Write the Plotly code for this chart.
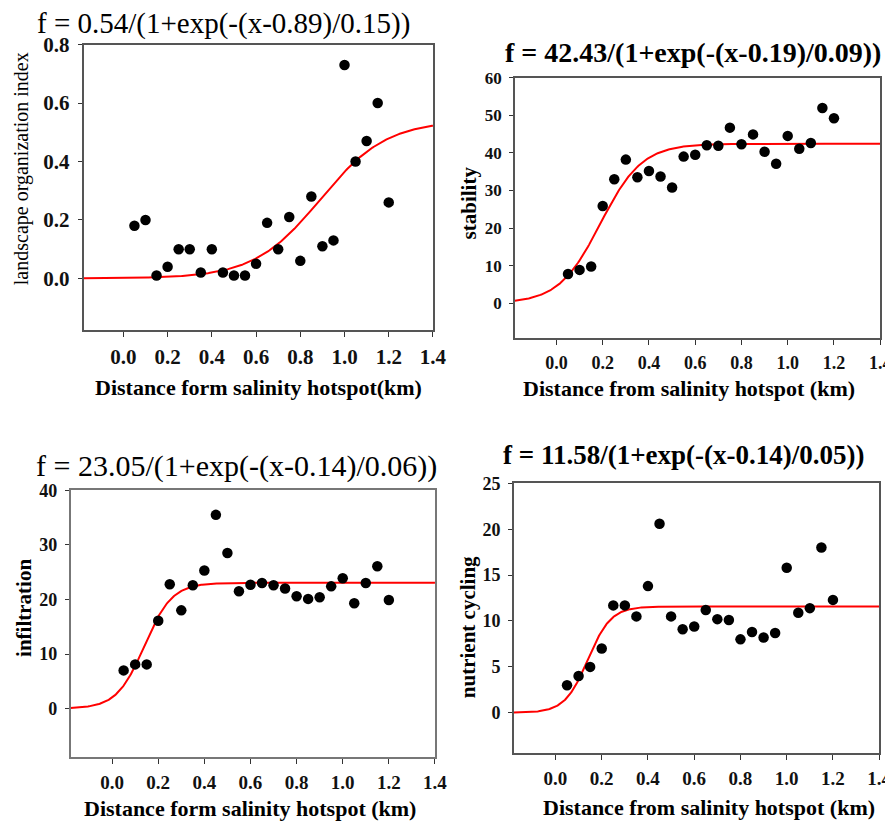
import numpy as np
import plotly.graph_objects as go

# ---------------- data ----------------
distance_km = [0.05, 0.10, 0.15, 0.20, 0.25, 0.30, 0.35, 0.40, 0.45, 0.50, 0.55, 0.60,
               0.65, 0.70, 0.75, 0.80, 0.85, 0.90, 0.95, 1.00, 1.05, 1.10, 1.15, 1.20]

landscape_org = [0.18, 0.20, 0.01, 0.04, 0.10, 0.10, 0.02, 0.10, 0.02, 0.01, 0.01, 0.05,
                 0.19, 0.10, 0.21, 0.06, 0.28, 0.11, 0.13, 0.73, 0.40, 0.47, 0.60, 0.26]
stability = [7.8, 8.9, 9.8, 25.9, 33.0, 38.2, 33.5, 35.2, 33.7, 30.8, 39.0, 39.5,
             42.0, 41.9, 46.7, 42.3, 44.9, 40.3, 37.1, 44.5, 41.1, 42.6, 51.9, 49.2]
infiltration = [7.0, 8.1, 8.1, 16.1, 22.8, 18.0, 22.6, 25.3, 35.5, 28.5, 21.5, 22.7,
                23.0, 22.6, 22.0, 20.6, 20.1, 20.4, 22.4, 23.9, 19.3, 23.0, 26.1, 19.9]
nutrient_cycling = [3.0, 4.0, 5.0, 7.0, 11.7, 11.7, 10.5, 13.8, 20.6, 10.5, 9.1, 9.4,
                    11.2, 10.2, 10.1, 8.0, 8.8, 8.2, 8.7, 15.8, 10.9, 11.4, 18.0, 12.3]

# logistic fit parameters (a, x0, b) from the panel titles
fit_landscape = [0.54, 0.89, 0.15]
fit_stability = [42.43, 0.19, 0.09]
fit_infiltration = [23.05, 0.14, 0.06]
fit_nutrient = [11.58, 0.14, 0.05]

titles = ["f = 0.54/(1+exp(-(x-0.89)/0.15))",
          "f = 42.43/(1+exp(-(x-0.19)/0.09))",
          "f = 23.05/(1+exp(-(x-0.14)/0.06))",
          "f = 11.58/(1+exp(-(x-0.14)/0.05))"]
y_titles = ["landscape organization index", "stability", "infiltration", "nutrient cycling"]
x_titles = ["Distance form salinity hotspot(km)",
            "Distance from salinity hotspot (km)",
            "Distance form salinity hotspot (km)",
            "Distance from salinity hotspot (km)"]
x_ticks = [0.0, 0.2, 0.4, 0.6, 0.8, 1.0, 1.2, 1.4]
y_ticks = [[0.0, 0.2, 0.4, 0.6, 0.8], [0, 10, 20, 30, 40, 50, 60],
           [0, 10, 20, 30, 40], [0, 5, 10, 15, 20, 25]]

# ---------------- layout helpers ----------------
W, H = 893, 822
FONT = "Liberation Serif"
# the page is photographed with a small offset and scale; compensate for it
OFF_X, OFF_Y, SCALE = 6.3, 19.4, 0.986


def px(t):
    return (t - OFF_X) / SCALE / W


def py(t):
    return 1 - (t - OFF_Y) / SCALE / H


panels = [
    dict(y=landscape_org, fit=fit_landscape, xdom=(82, 432), ydom=(44, 330), yr=[-0.178, 0.8],
         yfmt=".1f", title_bold=False, title_pos=(222, 23), title_size=29,
         ytitle_bold=False, ytitle_pos=(20, 168), ytitle_size=20,
         xtitle_pos=(257, 387), tick_size=21, ytick_size=21, line="#555"),
    dict(y=stability, fit=fit_stability, xdom=(514, 880), ydom=(77, 338), yr=[-9.3, 60],
         yfmt="d", title_bold=True, title_pos=(692, 52), title_size=28,
         ytitle_bold=True, ytitle_pos=(469, 202), ytitle_size=21,
         xtitle_pos=(688, 388), tick_size=18, ytick_size=17, line="#555"),
    dict(y=infiltration, fit=fit_infiltration, xdom=(69, 434), ydom=(490, 757), yr=[-8.9, 40],
         yfmt="d", title_bold=False, title_pos=(235, 466), title_size=30,
         ytitle_bold=True, ytitle_pos=(23, 608), ytitle_size=21,
         xtitle_pos=(249, 808), tick_size=19, ytick_size=18, line="#777"),
    dict(y=nutrient_cycling, fit=fit_nutrient, xdom=(513, 879), ydom=(483, 753), yr=[-4.4, 25],
         yfmt="d", title_bold=True, title_pos=(683, 455), title_size=27,
         ytitle_bold=True, ytitle_pos=(467, 627), ytitle_size=21,
         xtitle_pos=(708, 807), tick_size=19, ytick_size=18, line="#555"),
]

fig = go.Figure()
annotations = []
layout = dict(width=W, height=H, margin=dict(l=0, r=0, t=0, b=0),
              paper_bgcolor="white", plot_bgcolor="white", showlegend=False,
              font=dict(family=FONT, color="black"))

x_curve = np.linspace(-0.18, 1.4, 400)

for i, p in enumerate(panels):
    n = "" if i == 0 else str(i + 1)
    xa, ya = "x" + n, "y" + n
    a, x0, b = p["fit"]
    fig.add_trace(go.Scatter(x=x_curve, y=a / (1 + np.exp(-(x_curve - x0) / b)),
                             mode="lines", line=dict(color="#ff0000", width=2),
                             xaxis=xa, yaxis=ya, hoverinfo="skip"))
    fig.add_trace(go.Scatter(x=distance_km, y=p["y"], mode="markers",
                             marker=dict(color="black", size=10.5),
                             xaxis=xa, yaxis=ya))
    x_l, x_r = p["xdom"]
    y_t, y_b = p["ydom"]
    layout["xaxis" + n] = dict(
        domain=[px(x_l), px(x_r)], anchor=ya, range=[-0.18, 1.4],
        tickvals=x_ticks, tickformat=".1f", ticks="outside", ticklen=5,
        tickcolor="#333", showline=True, linecolor=p["line"], linewidth=1.5, mirror=True,
        showgrid=False, zeroline=False, ticklabelstandoff=2,
        tickfont=dict(family=FONT, size=p["tick_size"], color="#111", weight="bold"))
    layout["yaxis" + n] = dict(
        domain=[py(y_b), py(y_t)], anchor=xa, range=p["yr"],
        tickvals=y_ticks[i], tickformat=p["yfmt"], ticks="outside", ticklen=4,
        tickcolor="#333", showline=True, linecolor=p["line"], linewidth=1.5, mirror=True,
        showgrid=False, zeroline=False, ticklabelstandoff=4,
        tickfont=dict(family=FONT, size=p["ytick_size"], color="#111", weight="bold"))
    tx, ty = p["title_pos"]
    annotations.append(dict(
        text=("<b>%s</b>" % titles[i]) if p["title_bold"] else titles[i],
        x=px(tx), y=py(ty), xref="paper", yref="paper", showarrow=False,
        xanchor="center", yanchor="middle",
        font=dict(family=FONT, size=p["title_size"], color="black")))
    yx, yy = p["ytitle_pos"]
    annotations.append(dict(
        text=("<b>%s</b>" % y_titles[i]) if p["ytitle_bold"] else y_titles[i],
        x=px(yx), y=py(yy), xref="paper", yref="paper", showarrow=False,
        xanchor="center", yanchor="middle", textangle=-90,
        font=dict(family=FONT, size=p["ytitle_size"], color="black")))
    xx, xy = p["xtitle_pos"]
    annotations.append(dict(
        text="<b>%s</b>" % x_titles[i],
        x=px(xx), y=py(xy), xref="paper", yref="paper", showarrow=False,
        xanchor="center", yanchor="middle",
        font=dict(family=FONT, size=22, color="black")))

layout["annotations"] = annotations
fig.update_layout(**layout)
fig.write_html("out.html")
